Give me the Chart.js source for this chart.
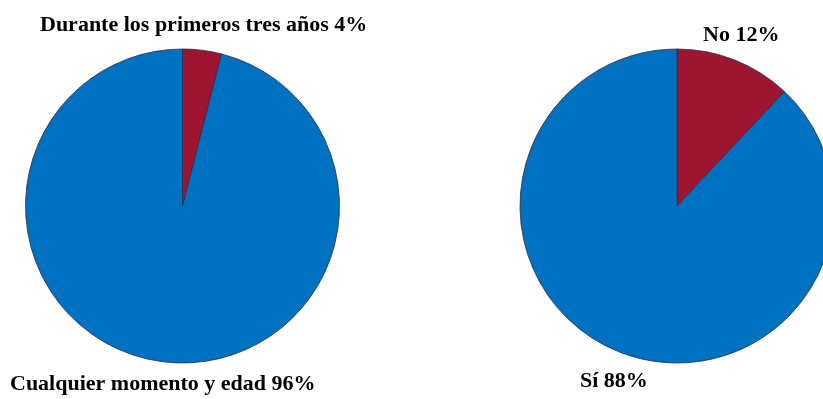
<!DOCTYPE html>
<html lang="es">
<head>
<meta charset="utf-8">
<title>Gráficos circulares</title>
<script src="https://cdn.jsdelivr.net/npm/chart.js@4/dist/chart.umd.min.js"></script>
<style>
  html, body { margin: 0; padding: 0; width: 823px; height: 399px; overflow: hidden; background: #fff; }
  .box { position: absolute; top: 0; height: 399px; }
  #box1 { left: 0; width: 411px; }
  #box2 { left: 411px; width: 440px; }
</style>
</head>
<body>
<div class="box" id="box1"><canvas id="pie1" width="411" height="399"></canvas></div>
<div class="box" id="box2"><canvas id="pie2" width="440" height="399"></canvas></div>
<script>
// Pregunta 1: ¿cuándo?
const categoriesA = ['Durante los primeros tres años', 'Cualquier momento y edad'];
const valuesA = [4, 96];
// Pregunta 2: sí / no
const categoriesB = ['No', 'Sí'];
const valuesB = [12, 88];

const RED = '#9d1530';
const BLUE = '#0070c0';
const EDGE = '#2a2f45';

// Draws each slice label ("Categoría NN%") at a fixed spot in the canvas
const sliceLabels = {
  id: 'sliceLabels',
  afterDraw(chart, args, opts) {
    const ctx = chart.ctx;
    const ds = chart.data.datasets[0];
    ctx.save();
    ctx.font = 'bold 22px "Liberation Serif", "Times New Roman", serif';
    ctx.fillStyle = '#000';
    ctx.textBaseline = 'alphabetic';
    ctx.textAlign = 'left';
    chart.data.labels.forEach((lab, i) => {
      const p = opts.positions[i];
      ctx.fillText(lab + ' ' + ds.data[i] + '%', p.x, p.y);
    });
    ctx.restore();
  }
};

function makePie(id, labels, values, padding, positions) {
  return new Chart(document.getElementById(id), {
    type: 'pie',
    data: {
      labels: labels,
      datasets: [{
        data: values,
        backgroundColor: [RED, BLUE],
        borderColor: EDGE,
        borderWidth: 0.8
      }]
    },
    options: {
      responsive: false,
      animation: false,
      radius: 157,
      layout: { padding: padding },
      plugins: {
        legend: { display: false },
        tooltip: { enabled: false },
        sliceLabels: { positions: positions }
      }
    },
    plugins: [sliceLabels]
  });
}

makePie('pie1', categoriesA, valuesA,
  { left: 24.5, top: 48, right: 70.5, bottom: 35 },
  [{ x: 40, y: 31 }, { x: 10, y: 390 }]);

makePie('pie2', categoriesB, valuesB,
  { left: 108, top: 48, right: 16, bottom: 35 },
  [{ x: 292, y: 41 }, { x: 169, y: 387 }]);
</script>
</body>
</html>
